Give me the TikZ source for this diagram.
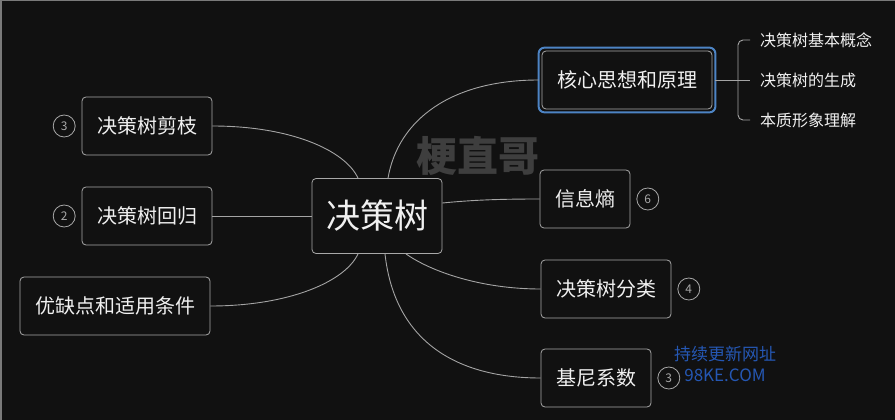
\documentclass[tikz,border=0pt]{standalone}
\usepackage{fontspec}
\setmainfont{Noto Sans CJK SC}
\usetikzlibrary{positioning}
\definecolor{bgdark}{HTML}{111111}
\definecolor{edgegray}{HTML}{7A7A7A}
\definecolor{boxline}{HTML}{A8A8A8}
\definecolor{linkline}{HTML}{A4A4A4}
\definecolor{txtlight}{HTML}{F0F0F0}
\definecolor{focusblue}{HTML}{4D84C4}
\definecolor{markgray}{HTML}{3E3E3E}
\definecolor{siteblue}{HTML}{2557B3}
\tikzset{
  mindmap/.style={
    x=1pt, y=-1pt,
    every node/.style={text=txtlight},
    node distance=6pt
  },
  root/.style={draw=boxline, rounded corners=4pt, line width=0.8pt,
    minimum width=130pt, minimum height=75pt, font=\fontsize{34}{34}\selectfont},
  topic/.style={draw=boxline, rounded corners=4pt, line width=0.8pt,
    inner xsep=15pt, minimum height=58pt, font=\fontsize{20}{20}\selectfont},
  leaf/.style={anchor=west, inner sep=0pt, font=\fontsize{16}{16}\selectfont},
  badge/.style={circle, draw=boxline, line width=0.8pt, minimum size=22pt,
    inner sep=0pt, text=boxline, font=\fontsize{12}{12}\selectfont},
  link/.style={draw=linkline, line width=0.9pt},
  site/.style={text=siteblue, font=\fontsize{17}{17}\selectfont}
}

\begin{document}
\begin{tikzpicture}[mindmap]
\useasboundingbox (0,0) rectangle (895,420);
\fill[bgdark] (0,0) rectangle (895,420);
\draw[edgegray, line width=1.5pt] (0,0.75) -- (895,0.75);
\draw[edgegray, line width=1.5pt] (0.75,0) -- (0.75,420);
\node[text=markgray, font=\fontsize{41}{41}\selectfont\bfseries] (mark) at (478,156) {梗直哥};
\node[root] (tree) at (377,216) {决策树};
\node[topic] (core) at (627,80) {核心思想和原理};
\draw[focusblue, line width=2pt, rounded corners=6pt]
  ([shift={(-3pt,3pt)}]core.north west) rectangle ([shift={(3pt,-3pt)}]core.south east);
\node[topic] (prune) at (147,126) {决策树剪枝};
\node[topic] (regr) at (147,216) {决策树回归};
\node[topic] (pros) at (115,306) {优缺点和适用条件};
\node[topic] (entropy) at (585,199) {信息熵};
\node[topic] (classify) at (606,289) {决策树分类};
\node[topic] (gini) at (596,378) {基尼系数};
\node[badge, left=of prune] (pruneno) {3};
\node[badge, left=of regr] (regrno) {2};
\node[badge, right=of entropy] (entropyno) {6};
\node[badge, right=of classify] (classifyno) {4};
\node[badge, right=of gini] (ginino) {3};
\node[leaf] (basic) at (760,40) {决策树基本概念};
\node[leaf] (grow) at (760,80) {决策树的生成};
\node[leaf] (intuit) at (760,120) {本质形象理解};
\draw[link, rounded corners=5pt] ([xshift=-10pt]basic.west) -| ([xshift=-22pt]grow.west)
  |- ([xshift=-10pt]intuit.west);
\draw[link] ([xshift=3pt]core.east) -- ([xshift=-10pt]grow.west);
\draw[link] ([xshift=-19pt]tree.north) .. controls +(-13,-28) and +(78,0) .. (prune.east);
\draw[link] (tree.west) -- (regr.east);
\draw[link] ([xshift=-19pt]tree.south) .. controls +(-13,28) and +(78,0) .. (pros.east);
\draw[link] ([xshift=11pt]tree.north) .. controls +(10,-58) and +(-88,0) .. ([xshift=-3pt]core.west);
\draw[link] ([yshift=13pt]tree.east) .. controls +(30,-3) and +(-40,0) .. (entropy.west);
\draw[link] ([xshift=29pt]tree.south) .. controls +(24,17) and +(-61,0) .. (classify.west);
\draw[link] ([xshift=8pt]tree.south) .. controls +(10,90) and +(-81,0) .. (gini.west);
\node[site] (sitename) at (725,354) {持续更新网址};
\node[site] (siteurl) at (725,375) {98KE.COM};
\end{tikzpicture}
\end{document}
